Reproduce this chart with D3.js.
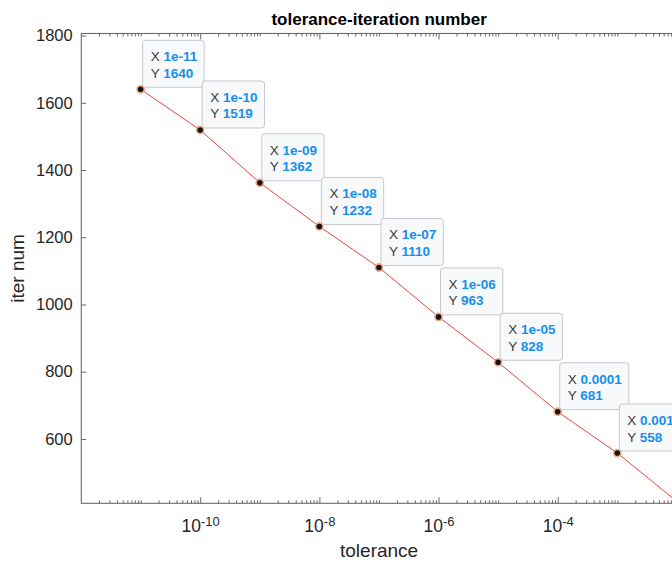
<!DOCTYPE html>
<html>
<head>
<meta charset="utf-8">
<script src="https://cdn.jsdelivr.net/npm/d3@7"></script>
<style>
  body { margin: 0; background: #fff; }
  svg { display: block; font-family: "Liberation Sans", Arial, sans-serif; }
</style>
</head>
<body>
<div id="chart"></div>
<script>
// data
const tolerance = [1e-11, 1e-10, 1e-9, 1e-8, 1e-7, 1e-6, 1e-5, 1e-4, 1e-3, 1e-2];
const iterNum = [1640, 1519, 1362, 1232, 1110, 963, 828, 681, 558, 414];
const tipLabels = ["1e-11", "1e-10", "1e-09", "1e-08", "1e-07", "1e-06", "1e-05", "0.0001", "0.001"];
const yTicks = [600, 800, 1000, 1200, 1400, 1600, 1800];
const xMajor = [1e-10, 1e-8, 1e-6, 1e-4];
const xExp = ["-10", "-8", "-6", "-4"];

const W = 672, H = 563;
const margin = { top: 33.5, left: 81.3 };
const plotW = 595.6, plotH = 469.8;

const svg = d3.select("#chart").append("svg")
    .attr("width", W)
    .attr("height", H);

const g = svg.append("g")
    .attr("transform", `translate(${margin.left},${margin.top})`);

const x = d3.scaleLog()
    .domain([1.01e-12, 1e-2])
    .range([0, plotW]);

const y = d3.scaleLinear()
    .domain([408.5, 1806])
    .range([plotH, 0]);

// minor ticks on every decade
const xMinor = [];
for (let k = -12; k <= -3; k++) {
    for (let m = 1; m <= 9; m++) {
        const v = m * Math.pow(10, k);
        if (v >= x.domain()[0] && v <= 1e-2 && !xMajor.includes(v)) xMinor.push(+v.toPrecision(3));
    }
}

const axisColor = "#6a6a6a";

function styleAxis(sel) {
    sel.select(".domain").remove();
    sel.selectAll(".tick line").attr("stroke", axisColor);
}

// bottom axis, major + minor
g.append("g")
    .attr("transform", `translate(0,${plotH})`)
    .call(d3.axisBottom(x).tickValues(xMinor).tickSize(-3).tickFormat(""))
    .call(styleAxis);

const xAx = g.append("g")
    .attr("transform", `translate(0,${plotH})`)
    .call(d3.axisBottom(x).tickValues(xMajor).tickSize(-6).tickPadding(16))
    .call(styleAxis);

xAx.selectAll(".tick text")
    .text(null)
    .attr("fill", "#262626")
    .attr("font-size", 17.5)
    .attr("font-family", "Liberation Sans, Arial, sans-serif")
    .each(function(d, i) {
        const t = d3.select(this);
        t.append("tspan").text("10");
        t.append("tspan").attr("dy", "-0.45em").attr("font-size", 13).text(xExp[i]);
    });

// top axis
g.append("g")
    .call(d3.axisTop(x).tickValues(xMinor).tickSize(-3).tickFormat(""))
    .call(styleAxis);
g.append("g")
    .call(d3.axisTop(x).tickValues(xMajor).tickSize(-6).tickFormat(""))
    .call(styleAxis);

// left axis
const yAx = g.append("g")
    .call(d3.axisLeft(y).tickValues(yTicks).tickSize(-5).tickPadding(8.6).tickFormat(d3.format("d")))
    .call(styleAxis);
yAx.selectAll(".tick text")
    .attr("fill", "#262626")
    .attr("font-size", 16.5)
    .attr("font-family", "Liberation Sans, Arial, sans-serif");

// right axis
g.append("g")
    .attr("transform", `translate(${plotW},0)`)
    .call(d3.axisRight(y).tickValues(yTicks).tickSize(-5).tickFormat(""))
    .call(styleAxis);

// axis box
g.append("rect")
    .attr("width", plotW)
    .attr("height", plotH)
    .attr("fill", "none")
    .attr("stroke", axisColor)
    .attr("stroke-width", 1.1);

// data line
const pts = tolerance.map((t, i) => ({ t, v: iterNum[i] }));
g.append("path")
    .datum(pts)
    .attr("fill", "none")
    .attr("stroke", "#e8453a")
    .attr("stroke-width", 1)
    .attr("d", d3.line().x(d => x(d.t)).y(d => y(d.v)));

// data tips
const tips = pts.slice(0, tipLabels.length).map((d, i) => ({ ...d, label: tipLabels[i] }));

g.selectAll(".marker")
    .data(tips)
    .enter().append("circle")
    .attr("class", "marker")
    .attr("cx", d => x(d.t))
    .attr("cy", d => y(d.v))
    .attr("r", 3.6)
    .attr("fill", "#151515")
    .attr("stroke", "#f1a98a")
    .attr("stroke-width", 1.6);

const boxH = 47;
const tip = g.selectAll(".tip")
    .data(tips)
    .enter().append("g")
    .attr("class", "tip")
    .attr("transform", d => `translate(${x(d.t) + 2},${y(d.v) - 2 - boxH})`);

tip.append("rect")
    .attr("rx", 3)
    .attr("height", boxH)
    .attr("fill", "#f8f9fb")
    .attr("stroke", "#c6c8cc")
    .attr("stroke-width", 1);

function tipLine(sel, key, val, yy) {
    const t = sel.append("text")
        .attr("x", 8)
        .attr("y", yy)
        .attr("font-size", 13.5);
    t.append("tspan").attr("fill", "#3a3a3a").text(key + " ");
    t.append("tspan").attr("fill", "#1590ec").attr("font-weight", "bold").text(val);
    return t;
}

tip.each(function(d) {
    const s = d3.select(this);
    const a = tipLine(s, "X", d.label, 21);
    const b = tipLine(s, "Y", d.v, 37.5);
    const w = Math.max(a.node().getComputedTextLength(), b.node().getComputedTextLength());
    s.select("rect").attr("width", w + 15);
});

// title and labels
svg.append("text")
    .attr("x", margin.left + plotW / 2)
    .attr("y", 25)
    .attr("text-anchor", "middle")
    .attr("font-weight", "bold")
    .attr("font-size", 17)
    .attr("fill", "#000")
    .text("tolerance-iteration number");

svg.append("text")
    .attr("x", margin.left + plotW / 2)
    .attr("y", 557)
    .attr("text-anchor", "middle")
    .attr("font-size", 19)
    .attr("fill", "#262626")
    .text("tolerance");

svg.append("text")
    .attr("transform", `translate(23.5,${margin.top + plotH / 2}) rotate(-90)`)
    .attr("text-anchor", "middle")
    .attr("font-size", 19)
    .attr("fill", "#262626")
    .text("iter num");
</script>
</body>
</html>
